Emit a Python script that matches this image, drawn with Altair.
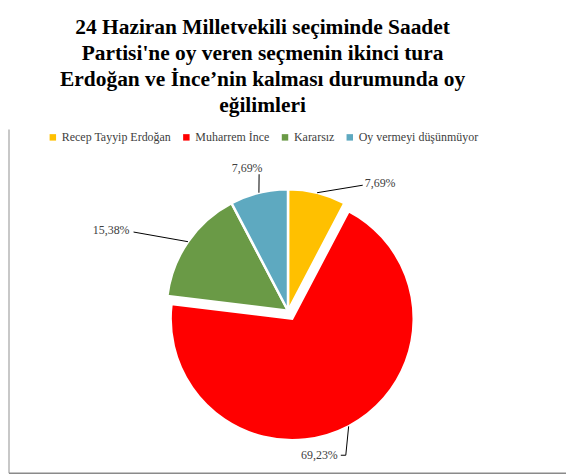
import altair as alt
import pandas as pd
import numpy as np

# ---- data ----
categories = ["Recep Tayyip Erdoğan", "Muharrem İnce", "Kararsız", "Oy vermeyi düşünmüyor"]
values = [7.69, 69.23, 15.38, 7.69]
value_labels = ["7,69%", "69,23%", "15,38%", "7,69%"]
colors = ["#FFC000", "#FF0000", "#6A9A46", "#5EA9C0"]

title_lines = [
    "24 Haziran Milletvekili seçiminde Saadet",
    "Partisi'ne oy veren seçmenin ikinci tura",
    "Erdoğan ve İnce’nin kalması durumunda oy",
    "eğilimleri",
]

# ---- layout (pixels, relative to pie centre) ----
W, H = 559, 347
CX, CY = 280, 182
R = 122
explode = [0, 9, 0, 0]
label_anchor = [(77, -128, "left"), (50, 145, "right"), (-159, -81, "right"), (-41, -143, "center")]
leader_end = [[(75, -126)], [(58, 145), (53, 145)], [(-155, -79)], [(-29, -137)]]

total = sum(values)
df = pd.DataFrame({"cat": categories, "value": values, "label": value_labels})
df["t1"] = df["value"].cumsum()
df["t0"] = df["t1"] - df["value"]
mid = (df["t0"] + df["t1"]) / 2 / total * 2 * np.pi
df["ex"] = [e * np.sin(m) for e, m in zip(explode, mid)]
df["ey"] = [-e * np.cos(m) for e, m in zip(explode, mid)]
df["lx"] = [a[0] for a in label_anchor]
df["ly"] = [a[1] for a in label_anchor]
df["align"] = [a[2] for a in label_anchor]

rows = []
for i, (e, m) in enumerate(zip(explode, mid)):
    sx = df["ex"][i] + R * np.sin(m)
    sy = df["ey"][i] - R * np.cos(m)
    pts = [(sx, sy)] + leader_end[i]
    for k, (px, py) in enumerate(pts):
        rows.append({"cat": categories[i], "k": k, "x": px, "y": py})
leaders = pd.DataFrame(rows)

xs = alt.Scale(domain=[-CX, W - CX], nice=False, zero=False)
ys = alt.Scale(domain=[-CY, H - CY], nice=False, zero=False, reverse=True)

color = alt.Color(
    "cat:N",
    scale=alt.Scale(domain=categories, range=colors),
    legend=alt.Legend(
        orient="none", legendX=38, legendY=2, direction="horizontal", columns=4,
        title=None, symbolType="square", symbolSize=42, symbolStrokeWidth=0,
        labelFont="Liberation Serif", labelFontSize=12, labelColor="#404040",
        columnPadding=9, labelOffset=3,
    ),
)

arcs = alt.Chart(df).mark_arc(outerRadius=R, stroke="white", strokeWidth=2.5).encode(
    theta=alt.Theta("t0:Q", scale=alt.Scale(domain=[0, total])),
    theta2="t1:Q",
    x=alt.X("ex:Q", scale=xs, axis=None),
    y=alt.Y("ey:Q", scale=ys, axis=None),
    color=color,
)

lines = alt.Chart(leaders).mark_line(color="black", strokeWidth=1).encode(
    x=alt.X("x:Q", scale=xs, axis=None),
    y=alt.Y("y:Q", scale=ys, axis=None),
    detail="cat:N",
    order="k:Q",
)

texts = []
for al in ["left", "right", "center"]:
    texts.append(
        alt.Chart(df).transform_filter(alt.datum.align == al).mark_text(
            align=al, baseline="middle", font="Liberation Serif", fontSize=12, color="#404040"
        ).encode(
            x=alt.X("lx:Q", scale=xs, axis=None),
            y=alt.Y("ly:Q", scale=ys, axis=None),
            text="label:N",
        )
    )

border = pd.DataFrame({"x0": [-CX], "x1": [W - CX], "y0": [-CY], "y1": [H - CY - 2]})
left_border = alt.Chart(border).mark_rule(color="#c8c8c8", strokeWidth=2).encode(
    x=alt.X("x0:Q", scale=xs, axis=None), y=alt.Y("y0:Q", scale=ys, axis=None), y2="y1:Q"
)
bottom_border = alt.Chart(border).mark_rule(color="#8a8a8a", strokeWidth=1.5).encode(
    x=alt.X("x0:Q", scale=xs, axis=None), x2="x1:Q", y=alt.Y("y1:Q", scale=ys, axis=None)
)

chart = alt.layer(arcs, lines, *texts, left_border, bottom_border).properties(
    width=W, height=H,
    padding={"left": 0, "top": 8, "right": 0, "bottom": 0},
    title=alt.Title(
        text=title_lines, font="Liberation Serif", fontSize=21.5, fontWeight="bold",
        lineHeight=26, anchor="middle", color="black", dx=-25, offset=12,
    ),
).configure_view(stroke=None)

chart.save("out.html", embed_options={"renderer": "svg", "actions": False})
